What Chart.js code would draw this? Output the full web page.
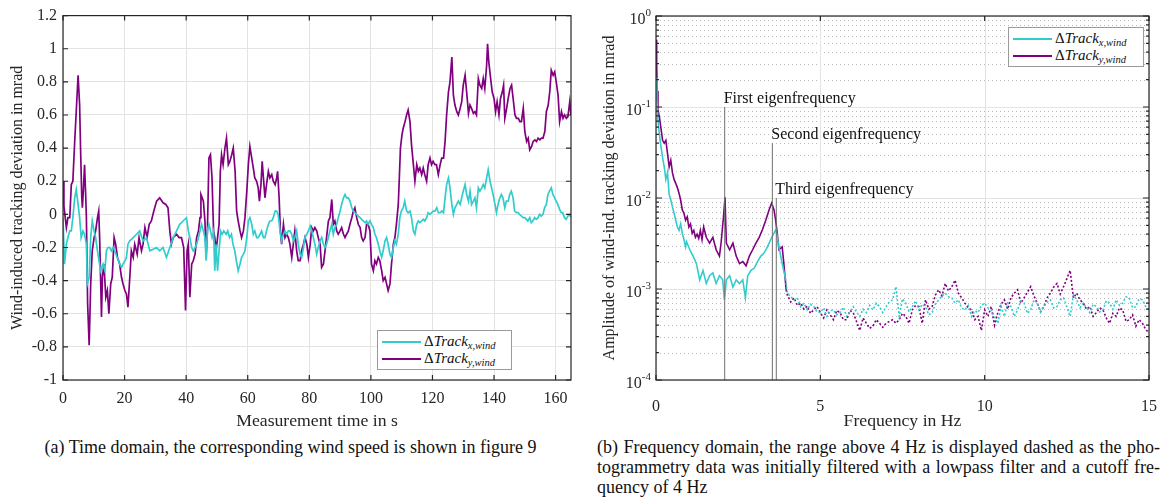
<!DOCTYPE html>
<html><head><meta charset="utf-8">
<script src="https://cdn.jsdelivr.net/npm/chart.js@4.4.1/dist/chart.umd.min.js"></script>
<style>
body{margin:0;background:#fff;width:1166px;height:500px;overflow:hidden;position:relative;font-family:"Liberation Serif",serif;color:#262626}
canvas{position:absolute;top:0}
#c1{left:0}
#c2{left:590px}
.leg{position:absolute;background:#fff;border:1px solid #9a9a9a;box-sizing:border-box}
.ln{position:absolute;left:4px;width:39px;height:2px}
.lt{position:absolute;left:46px;font-size:15px;line-height:15px;white-space:nowrap;color:#111}
.lt i{font-style:italic}
.lt sub{font-size:10.5px;vertical-align:-3px;line-height:0}
.cap{position:absolute;font-size:18px;line-height:20px;color:#111;white-space:nowrap}
.just{text-align:justify;text-align-last:justify;white-space:normal}
</style></head>
<body>
<canvas id="c1" width="580" height="434"></canvas>
<canvas id="c2" width="576" height="434"></canvas>

<div class="leg" style="left:377px;top:330px;width:135px;height:40px">
  <div class="ln" style="top:10px;background:rgb(51,204,204)"></div>
  <div class="lt" style="top:3px">Δ<i>Track</i><sub><i>x,wind</i></sub></div>
  <div class="ln" style="top:27px;background:rgb(128,0,128)"></div>
  <div class="lt" style="top:20px">Δ<i>Track</i><sub><i>y,wind</i></sub></div>
</div>
<div class="leg" style="left:1008px;top:27px;width:136px;height:40px">
  <div class="ln" style="top:10px;background:rgb(51,204,204)"></div>
  <div class="lt" style="top:3px">Δ<i>Track</i><sub><i>x,wind</i></sub></div>
  <div class="ln" style="top:27px;background:rgb(128,0,128)"></div>
  <div class="lt" style="top:20px">Δ<i>Track</i><sub><i>y,wind</i></sub></div>
</div>

<div class="cap" style="left:0;width:581px;top:437px;text-align:center">(a) Time domain, the corresponding wind speed is shown in figure 9</div>
<div class="cap just" style="left:597px;width:563px;top:437px">(b) Frequency domain, the range above 4 Hz is displayed dashed as the pho-</div>
<div class="cap just" style="left:597px;width:563px;top:457px">togrammetry data was initially filtered with a lowpass filter and a cutoff fre-</div>
<div class="cap" style="left:597px;top:477px">quency of 4 Hz</div>

<script>
// ---------- Time domain data ----------
const timeX = [0.0,0.5,1.1,1.6,2.2,2.7,3.2,3.8,4.3,4.9,5.4,5.9,6.5,7.0,7.6,7.9,8.5,9.0,9.5,10.1,10.6,11.2,11.7,12.2,13.0,13.6,14.1,14.6,15.2,15.7,16.3,16.8,17.6,18.4,19.0,19.5,20.1,20.6,21.1,21.7,22.8,23.9,24.9,26.0,27.1,28.2,29.3,30.4,31.4,32.5,33.6,34.7,35.8,36.9,37.9,39.0,40.1,40.7,41.2,41.8,42.3,42.9,43.4,44.0,44.5,45.0,45.6,46.1,46.5,46.9,47.4,47.9,48.4,48.9,49.3,49.7,50.2,50.7,51.2,51.7,52.2,53.0,53.5,54.1,54.7,55.2,55.8,56.3,56.9,57.5,58.0,58.6,59.1,59.7,60.2,60.7,61.3,61.8,62.3,62.9,63.4,64.0,64.5,65.1,65.6,66.1,66.7,67.2,67.8,68.3,68.9,69.4,69.9,70.5,71.0,71.6,72.1,72.6,73.2,73.7,74.3,74.8,75.3,75.9,76.4,77.0,77.5,78.1,78.6,79.2,79.7,80.3,80.8,81.3,81.8,82.4,82.9,83.5,84.0,84.6,85.1,85.6,86.2,86.7,87.3,87.8,88.3,88.9,89.4,90.0,90.5,91.1,91.6,92.1,92.7,93.2,93.8,94.3,94.8,95.4,95.9,96.5,97.0,97.5,98.1,98.6,99.1,99.7,100.2,100.8,101.3,101.8,102.4,102.9,103.5,104.0,104.6,105.1,105.6,106.2,106.7,107.3,107.8,108.3,108.9,109.4,109.9,110.5,111.0,111.6,112.1,112.7,113.2,113.8,114.3,114.9,115.4,115.9,116.5,117.0,117.5,118.1,118.6,119.2,119.7,120.2,120.8,121.4,121.9,122.5,123.0,123.6,124.1,124.6,125.2,125.7,126.3,126.8,127.3,127.9,128.4,129.0,129.5,130.0,130.6,131.1,131.7,132.2,132.7,133.3,133.8,134.3,134.9,135.4,136.0,136.5,137.0,137.6,138.1,138.7,139.2,139.7,140.3,140.8,141.3,141.9,142.4,142.9,143.5,144.0,144.6,145.1,145.6,146.2,146.7,147.3,147.8,148.3,148.9,149.4,150.0,150.5,151.0,151.6,152.1,152.6,153.2,153.7,154.3,154.8,155.3,155.9,156.4,157.0,157.5,158.0,158.6,159.1,159.7,160.2,160.7,161.3,161.8,162.3,162.9,163.4,164.0,164.6,165.0];
const devX = [-0.02,-0.3,-0.18,-0.14,-0.1,-0.1,-0.02,0.1,0.15,0.06,-0.02,-0.14,-0.1,-0.12,-0.18,-0.42,-0.38,-0.14,-0.04,-0.1,-0.14,-0.22,-0.28,-0.34,-0.3,-0.34,-0.22,-0.2,-0.2,-0.22,-0.2,-0.22,-0.26,-0.3,-0.32,-0.3,-0.28,-0.26,-0.18,-0.16,-0.14,-0.12,-0.1,-0.16,-0.14,-0.22,-0.21,-0.2,-0.22,-0.2,-0.26,-0.2,-0.14,-0.1,-0.06,-0.04,-0.02,-0.1,-0.14,-0.2,-0.22,-0.2,-0.18,-0.14,-0.1,-0.06,-0.1,-0.14,-0.28,-0.1,-0.06,-0.1,-0.14,-0.1,-0.34,-0.18,-0.34,-0.22,-0.1,-0.12,-0.1,-0.12,-0.1,-0.14,-0.12,-0.18,-0.22,-0.28,-0.34,-0.3,-0.26,-0.24,-0.22,-0.14,-0.04,-0.02,-0.06,-0.12,-0.1,-0.14,-0.14,-0.12,-0.1,-0.14,-0.14,-0.1,-0.06,-0.04,-0.04,-0.02,0.02,0.02,0.0,-0.1,-0.16,-0.12,-0.1,-0.12,-0.1,-0.1,-0.12,-0.16,-0.14,-0.1,-0.18,-0.24,-0.26,-0.2,-0.14,-0.12,-0.1,-0.07,-0.1,-0.14,-0.18,-0.24,-0.2,-0.16,-0.14,-0.18,-0.2,-0.18,-0.14,-0.1,-0.06,-0.12,-0.08,-0.06,-0.02,0.02,0.06,0.1,0.12,0.1,0.1,0.08,0.04,0.02,0.01,0.0,-0.01,-0.02,-0.03,-0.04,-0.05,-0.04,-0.06,-0.04,-0.06,-0.08,-0.12,-0.14,-0.18,-0.22,-0.26,-0.22,-0.16,-0.14,-0.18,-0.24,-0.26,-0.2,-0.16,-0.18,-0.12,-0.02,0.02,0.04,0.08,0.02,0.01,0.02,-0.02,-0.1,-0.12,-0.06,-0.04,-0.05,-0.04,-0.03,-0.04,-0.02,0.01,0.0,0.01,0.02,0.02,0.04,0.01,0.01,0.02,0.01,0.1,0.18,0.22,0.16,0.06,0.0,0.04,0.06,0.08,0.06,0.1,0.14,0.18,0.12,0.08,0.14,0.06,0.08,0.1,0.04,0.16,0.14,0.16,0.18,0.16,0.22,0.27,0.2,0.16,0.12,0.06,0.01,0.06,0.1,0.12,0.1,0.04,0.08,0.08,0.12,0.14,0.1,0.02,0.01,0.01,0.0,-0.01,-0.02,-0.02,-0.03,-0.04,-0.02,-0.05,-0.04,-0.02,-0.03,-0.02,0.0,-0.01,0.0,0.04,0.06,0.12,0.14,0.16,0.12,0.1,0.08,0.06,0.03,0.01,0.01,-0.02,-0.03,-0.01,0.0,-0.02];

const timeY = [0.0,0.3,1.1,1.6,2.2,2.7,3.2,3.8,4.3,4.9,5.4,5.7,6.1,6.3,6.6,7.0,7.4,7.6,8.0,8.5,9.0,9.5,10.1,10.6,11.2,11.6,11.9,12.5,12.8,13.3,13.9,14.4,14.9,15.5,16.0,16.6,17.1,17.7,18.4,19.0,19.5,20.1,20.6,21.1,21.7,22.2,22.8,23.3,24.1,24.7,25.5,26.0,26.6,27.3,28.0,28.7,29.5,30.4,31.4,32.5,33.4,34.1,34.7,35.2,35.8,36.9,37.7,38.5,39.2,39.8,40.3,40.7,41.2,41.8,42.3,42.9,43.4,44.0,44.5,44.8,45.2,45.6,46.1,46.5,46.9,47.4,47.9,48.4,48.9,49.3,49.7,50.2,50.7,51.1,51.5,52.0,52.6,53.1,53.7,54.2,54.8,55.3,55.9,56.4,56.9,57.5,58.0,58.6,59.1,59.7,60.2,60.7,61.3,61.8,62.3,62.9,63.4,63.8,64.3,64.7,65.1,65.6,66.1,66.7,67.2,67.8,68.3,68.9,69.4,69.7,70.2,70.6,71.0,71.6,72.1,72.6,73.2,73.7,74.3,74.8,75.3,75.9,76.4,77.0,77.5,78.1,78.6,79.2,79.7,80.3,80.8,81.3,81.8,82.4,82.9,83.5,84.0,84.6,85.1,85.6,86.2,86.7,87.3,87.8,88.3,88.9,89.4,90.0,90.5,91.1,91.6,92.1,92.7,93.2,93.8,94.3,94.8,95.4,95.9,96.5,97.0,97.5,98.1,98.6,99.1,99.7,100.2,100.8,101.3,101.8,102.4,102.9,103.5,104.0,104.6,105.1,105.6,106.2,106.7,107.3,107.8,108.3,108.9,109.2,109.6,110.1,110.5,111.1,111.6,112.1,112.7,113.2,113.8,114.3,114.9,115.4,115.9,116.5,117.0,117.5,118.1,118.6,119.2,119.7,120.2,120.8,121.3,121.9,122.5,123.0,123.6,124.1,124.6,125.2,125.7,126.3,126.8,127.3,127.9,128.4,129.0,129.5,130.0,130.6,131.1,131.7,132.2,132.7,133.3,133.8,134.3,134.9,135.4,136.0,136.5,137.0,137.6,137.9,138.3,138.9,139.4,140.0,140.5,141.0,141.6,142.1,142.7,143.1,143.5,144.1,144.6,145.2,145.7,146.2,146.8,147.3,147.9,148.4,148.9,149.5,150.0,150.6,151.1,151.6,152.2,152.7,153.3,153.8,154.3,154.9,155.4,155.9,156.5,157.0,157.6,158.1,158.6,159.2,159.7,160.2,160.8,161.3,161.9,162.4,162.9,163.5,164.0,164.6,165.0];
const devY = [0.2,0.05,-0.08,-0.02,-0.02,0.18,0.2,0.44,0.62,0.84,0.66,0.4,0.1,0.04,0.14,0.3,0.1,-0.02,-0.54,-0.79,-0.42,-0.22,-0.14,-0.1,-0.02,0.02,-0.14,-0.62,-0.38,-0.3,-0.5,-0.46,-0.6,-0.42,-0.38,-0.14,-0.18,-0.26,-0.3,-0.38,-0.42,-0.46,-0.48,-0.56,-0.38,-0.22,-0.26,-0.18,-0.24,-0.14,-0.22,-0.18,-0.08,-0.14,-0.06,-0.04,0.02,0.08,0.1,0.07,0.06,0.04,-0.1,-0.18,-0.14,-0.12,-0.14,-0.14,-0.2,-0.58,-0.22,-0.18,-0.5,-0.3,-0.28,-0.24,-0.14,-0.1,-0.02,0.12,0.1,0.08,-0.04,-0.26,-0.1,0.34,0.36,0.22,-0.1,-0.14,-0.22,-0.14,-0.06,0.26,0.36,0.3,0.4,0.46,0.3,0.32,0.36,0.4,0.26,0.02,-0.04,-0.1,-0.14,-0.1,-0.02,0.14,0.3,0.41,0.34,0.28,0.22,0.2,0.16,0.08,0.18,0.32,0.22,0.1,0.18,0.26,0.22,0.24,0.2,0.18,0.22,0.26,0.1,-0.1,-0.18,-0.06,-0.14,-0.12,-0.14,-0.18,-0.26,-0.18,-0.1,-0.22,-0.28,-0.28,-0.22,-0.18,-0.14,-0.18,-0.26,-0.18,-0.08,-0.1,-0.08,-0.1,-0.14,-0.18,-0.32,-0.3,-0.22,-0.14,-0.04,-0.02,0.09,-0.06,-0.04,-0.1,-0.12,-0.1,-0.08,-0.12,-0.14,-0.12,-0.1,-0.06,-0.02,0.02,0.04,-0.02,-0.06,-0.08,-0.14,-0.16,-0.14,-0.06,-0.06,-0.1,-0.3,-0.34,-0.28,-0.3,-0.26,-0.28,-0.34,-0.4,-0.38,-0.42,-0.46,-0.42,-0.3,-0.18,-0.14,-0.06,0.06,0.2,0.4,0.48,0.52,0.56,0.6,0.63,0.56,0.42,0.3,0.2,0.3,0.26,0.28,0.24,0.28,0.24,0.2,0.3,0.34,0.3,0.32,0.3,0.3,0.24,0.3,0.34,0.34,0.44,0.6,0.74,0.8,0.95,0.72,0.66,0.62,0.6,0.64,0.68,0.78,0.84,0.74,0.61,0.66,0.64,0.61,0.62,0.6,0.82,0.78,0.76,0.82,0.76,0.9,1.03,0.92,0.82,0.74,0.7,0.62,0.68,0.6,0.7,0.74,0.78,0.58,0.64,0.7,0.76,0.78,0.7,0.6,0.58,0.58,0.56,0.56,0.64,0.5,0.44,0.46,0.39,0.41,0.44,0.45,0.44,0.46,0.45,0.46,0.46,0.5,0.62,0.66,0.74,0.87,0.84,0.86,0.8,0.72,0.56,0.62,0.58,0.6,0.58,0.59,0.68,0.6];

const timeTicks = [0,20,40,60,80,100,120,140,160];

// ---------- Frequency domain data ----------
// below the 4 Hz cutoff (solid)
const freqSolidX = [0,0.03,0.06,0.1,0.15,0.2,0.25,0.3,0.35,0.4,0.45,0.5,0.55,0.6,0.65,0.7,0.75,0.8,0.85,0.9,0.93,1.03,1.13,1.23,1.33,1.43,1.53,1.63,1.73,1.83,1.93,2.03,2.08,2.14,2.24,2.34,2.44,2.54,2.64,2.72,2.79,2.89,2.99,3.09,3.19,3.29,3.39,3.49,3.59,3.65,3.74,3.84,3.94];
const ampSolidX = [0.21,0.12,0.072,0.051,0.037,0.028,0.022,0.016,0.019,0.011,0.0095,0.008,0.0068,0.0057,0.0048,0.0044,0.0052,0.0041,0.0035,0.0029,0.0033,0.0027,0.0023,0.0019,0.00126,0.0016,0.00115,0.0014,0.0015,0.00115,0.0014,0.00126,0.00076,0.00126,0.0014,0.00105,0.00126,0.00115,0.00126,0.0008,0.0014,0.0016,0.0017,0.002,0.0023,0.0025,0.0029,0.0035,0.0041,0.0045,0.0029,0.0019,0.0013];
const freqSolidY = [0,0.02,0.04,0.06,0.1,0.15,0.2,0.25,0.3,0.35,0.4,0.45,0.5,0.55,0.6,0.65,0.7,0.75,0.8,0.85,0.9,0.95,1.0,1.05,1.1,1.15,1.2,1.25,1.3,1.35,1.4,1.45,1.53,1.63,1.73,1.83,1.93,1.98,2.05,2.1,2.14,2.24,2.34,2.44,2.54,2.64,2.74,2.84,2.94,3.04,3.14,3.24,3.34,3.44,3.52,3.59,3.64,3.69,3.74,3.84,3.89,3.96];
const ampSolidY = [0.55,0.3,0.15,0.093,0.079,0.059,0.043,0.04,0.043,0.031,0.022,0.026,0.019,0.016,0.0145,0.013,0.0113,0.0095,0.0074,0.0068,0.0057,0.0062,0.0048,0.0052,0.0041,0.0044,0.0037,0.004,0.0036,0.0044,0.0035,0.0048,0.0037,0.0032,0.0037,0.0027,0.0023,0.0032,0.006,0.0102,0.0032,0.0027,0.0032,0.0023,0.0019,0.002,0.0018,0.0023,0.0027,0.0032,0.0037,0.0045,0.0057,0.0074,0.0088,0.0074,0.0057,0.0041,0.0027,0.0029,0.0019,0.00098];
// above the 4 Hz cutoff (dashed)
const freqDashed = [4.0,4.1,4.2,4.3,4.4,4.5,4.6,4.7,4.8,4.9,5.0,5.1,5.2,5.3,5.4,5.5,5.6,5.7,5.8,5.9,6.0,6.1,6.2,6.3,6.4,6.5,6.6,6.7,6.8,6.9,7.0,7.1,7.2,7.3,7.4,7.5,7.6,7.7,7.8,7.9,8.0,8.1,8.2,8.3,8.4,8.5,8.6,8.7,8.8,8.9,9.0,9.1,9.2,9.3,9.4,9.5,9.6,9.7,9.8,9.9,10.0,10.1,10.2,10.3,10.4,10.5,10.6,10.7,10.8,10.9,11.0,11.1,11.2,11.3,11.4,11.5,11.6,11.7,11.8,11.9,12.0,12.1,12.2,12.3,12.4,12.5,12.6,12.7,12.8,12.9,13.0,13.1,13.2,13.3,13.4,13.5,13.6,13.7,13.8,13.9,14.0,14.1,14.2,14.3,14.4,14.5,14.6,14.7,14.8,14.9,15.0];
const ampDashedX = [9e-4,8.2e-4,7.6e-4,8e-4,6.4e-4,7e-4,5.9e-4,6.8e-4,6.4e-4,5.6e-4,5.5e-4,6.2e-4,5e-4,5.8e-4,5.9e-4,5.2e-4,5.5e-4,6.3e-4,5e-4,5.6e-4,6.4e-4,5.6e-4,5e-4,6e-4,5.5e-4,6.6e-4,5.9e-4,7e-4,6.4e-4,5.5e-4,6.4e-4,7.2e-4,7.6e-4,1.06e-3,5e-4,7.8e-4,7e-4,5.6e-4,6.4e-4,7.4e-4,5.9e-4,6.8e-4,6.4e-4,5.2e-4,5.5e-4,6.8e-4,7.6e-4,8.4e-4,9e-4,8.2e-4,8e-4,7e-4,7.6e-4,6.2e-4,5.9e-4,6.6e-4,5e-4,5.8e-4,5.5e-4,6.6e-4,7e-4,6.2e-4,5.9e-4,5e-4,4.2e-4,6.4e-4,5e-4,7e-4,6.4e-4,5e-4,5.9e-4,7.4e-4,7e-4,5.4e-4,5.9e-4,7.6e-4,7e-4,5.6e-4,6.4e-4,7.2e-4,7.6e-4,6.2e-4,6.4e-4,7.6e-4,8e-4,6.4e-4,5e-4,8.6e-4,7.6e-4,6.2e-4,7e-4,6.2e-4,5.5e-4,6.8e-4,6.4e-4,5.6e-4,5.9e-4,7.4e-4,7e-4,6e-4,7.6e-4,6.6e-4,7e-4,8.2e-4,8e-4,6.2e-4,6.4e-4,7.8e-4,7.6e-4,6.4e-4,5.9e-4];
const ampDashedY = [8.5e-4,7.2e-4,8e-4,6.6e-4,7e-4,6e-4,6.5e-4,5.4e-4,5.9e-4,6.4e-4,5.5e-4,4.8e-4,5.9e-4,5.2e-4,4.6e-4,5.8e-4,5.5e-4,4.6e-4,4.6e-4,5.8e-4,5.5e-4,4.4e-4,3.5e-4,4.8e-4,4.2e-4,3.7e-4,3.9e-4,4.6e-4,4.2e-4,3.8e-4,4.2e-4,4.4e-4,4.6e-4,4.2e-4,4.6e-4,5.4e-4,5e-4,4.2e-4,5.9e-4,6.6e-4,6.4e-4,4.2e-4,7.6e-4,6e-4,6.4e-4,8.6e-4,9.8e-4,8.4e-4,1.15e-3,9.5e-4,1.06e-3,1.25e-3,9e-4,8e-4,7e-4,6.2e-4,5.9e-4,4.6e-4,5e-4,3.5e-4,5.9e-4,5e-4,6.4e-4,4e-4,5.5e-4,6.8e-4,7.6e-4,6e-4,8e-4,9e-4,9.8e-4,7e-4,8e-4,9.2e-4,1.06e-3,8.4e-4,7e-4,5.6e-4,6.4e-4,8e-4,9e-4,1.05e-3,1.15e-3,8.8e-4,1.06e-3,1.3e-3,1.6e-3,8e-4,9e-4,7.6e-4,7e-4,6e-4,6.4e-4,5e-4,5.5e-4,6.2e-4,5.9e-4,4.8e-4,4.2e-4,5.4e-4,5e-4,6.2e-4,5.9e-4,4.4e-4,4.6e-4,5.2e-4,3.9e-4,4.6e-4,4.2e-4,3.6e-4,3.3e-4];

const freqTicks = [0,5,10,15];
const ampDecades = [1e-4,1e-3,1e-2,1e-1,1];
const cutoffFreq = 4;

const eigenLabels = ['First eigenfrequency','Second eigenfrequency','Third eigenfrequency'];
const eigenFreqs = [2.09, 3.54, 3.66];
const eigenTops = [0.1, 0.04, 0.01];

// ---------- styling ----------
const CYAN = 'rgb(51,204,204)', PURPLE = 'rgb(128,0,128)', AX = '#262626';
const FONT = '"Liberation Serif", "Times New Roman", serif';
Chart.defaults.font.family = FONT;
Chart.defaults.color = AX;

const pts = (xs, ys) => xs.map((x, i) => ({x, y: ys[i]}));

const frameLin = {
  id: 'frameLin',
  afterDatasetsDraw(chart) {
    const {ctx, chartArea: a, scales: {x, y}} = chart;
    ctx.save();
    ctx.strokeStyle = AX; ctx.lineWidth = 1.2;
    ctx.beginPath();
    x.ticks.forEach(t => { const px = x.getPixelForValue(t.value);
      ctx.moveTo(px, a.bottom); ctx.lineTo(px, a.bottom - 5);
      ctx.moveTo(px, a.top); ctx.lineTo(px, a.top + 5); });
    y.ticks.forEach(t => { const py = y.getPixelForValue(t.value);
      ctx.moveTo(a.left, py); ctx.lineTo(a.left + 5, py);
      ctx.moveTo(a.right, py); ctx.lineTo(a.right - 5, py); });
    ctx.stroke();
    ctx.strokeRect(a.left, a.top, a.right - a.left, a.bottom - a.top);
    ctx.restore();
  }
};

const logDecor = {
  id: 'logDecor',
  beforeDatasetsDraw(chart) {
    const {ctx, chartArea: a, scales: {x, y}} = chart;
    ctx.save();
    ctx.strokeStyle = 'rgba(0,0,0,0.28)'; ctx.lineWidth = 1; ctx.setLineDash([1, 3]);
    ctx.beginPath();
    for (let d = 0; d < ampDecades.length - 1; d++) {
      for (let k = 2; k <= 9; k++) {
        const py = Math.round(y.getPixelForValue(ampDecades[d] * k)) + 0.5;
        ctx.moveTo(a.left, py); ctx.lineTo(a.right, py);
      }
    }
    ctx.stroke();
    ctx.setLineDash([]);
    ctx.strokeStyle = '#e3e3e3'; ctx.beginPath();
    ampDecades.forEach(v => { const py = Math.round(y.getPixelForValue(v)) + 0.5; ctx.moveTo(a.left, py); ctx.lineTo(a.right, py); });
    freqTicks.forEach(v => { const px = Math.round(x.getPixelForValue(v)) + 0.5; ctx.moveTo(px, a.top); ctx.lineTo(px, a.bottom); });
    ctx.stroke();
    ctx.restore();
  },
  afterDatasetsDraw(chart) {
    const {ctx, chartArea: a, scales: {x, y}} = chart;
    ctx.save();
    ctx.fillStyle = '#111'; ctx.font = '16px ' + FONT; ctx.textAlign = 'left'; ctx.textBaseline = 'alphabetic';
    eigenLabels.forEach((s, i) => {
      ctx.fillText(s, x.getPixelForValue(eigenFreqs[i]) - 1, y.getPixelForValue(eigenTops[i]) - 4);
    });
    ctx.strokeStyle = AX; ctx.lineWidth = 1.2; ctx.beginPath();
    freqTicks.forEach(v => { const px = x.getPixelForValue(v);
      ctx.moveTo(px, a.bottom); ctx.lineTo(px, a.bottom - 5);
      ctx.moveTo(px, a.top); ctx.lineTo(px, a.top + 5); });
    for (let d = 0; d < ampDecades.length; d++) {
      for (let k = 1; k <= 9; k++) {
        if (d === ampDecades.length - 1 && k > 1) break;
        const py = y.getPixelForValue(ampDecades[d] * k);
        const L = k === 1 ? 6 : 3;
        ctx.moveTo(a.left, py); ctx.lineTo(a.left + L, py);
        ctx.moveTo(a.right, py); ctx.lineTo(a.right - L, py);
      }
    }
    ctx.stroke();
    ctx.strokeRect(a.left, a.top, a.right - a.left, a.bottom - a.top);
    ctx.fillStyle = AX; ctx.textAlign = 'right'; ctx.textBaseline = 'middle';
    ampDecades.forEach(v => {
      const py = y.getPixelForValue(v);
      const e = String(Math.round(Math.log10(v)));
      ctx.font = '11px ' + FONT;
      const w = ctx.measureText(e).width;
      ctx.fillText(e, a.left - 5, py - 3);
      ctx.font = '16px ' + FONT;
      ctx.fillText('10', a.left - 5 - w, py + 4);
    });
    ctx.restore();
  }
};

const xTitleFont = {size: 17.7};

// ---------- Chart (a): time domain ----------
new Chart(document.getElementById('c1'), {
  type: 'line',
  data: {
    datasets: [
      {label: 'ΔTrack x,wind', data: pts(timeX, devX), borderColor: CYAN, borderWidth: 1.7, pointRadius: 0, tension: 0},
      {label: 'ΔTrack y,wind', data: pts(timeY, devY), borderColor: PURPLE, borderWidth: 1.7, pointRadius: 0, tension: 0}
    ]
  },
  options: {
    responsive: false, animation: false,
    layout: {padding: {left: 0, top: 13, right: 9, bottom: 0}},
    plugins: {legend: {display: false}, tooltip: {enabled: false}},
    scales: {
      x: {
        type: 'linear', min: 0, max: 165,
        afterBuildTicks: s => { s.ticks = timeTicks.map(v => ({value: v})); },
        afterFit: s => { s.height = 54; },
        ticks: {font: {size: 16}, padding: 9, maxRotation: 0},
        grid: {color: '#e3e3e3', drawTicks: false}, border: {display: false},
        title: {display: true, text: 'Measurement time in s', font: xTitleFont, padding: {top: 0, bottom: 2}, color: AX}
      },
      y: {
        type: 'linear', min: -1, max: 1.2,
        ticks: {stepSize: 0.2, font: {size: 16}, padding: 6, callback: v => String(Number(v.toFixed(1)))},
        afterFit: s => { s.width = 63; },
        grid: {color: '#e3e3e3', drawTicks: false}, border: {display: false},
        title: {display: true, text: 'Wind-induced tracking deviation in mrad', font: {size: 16}, padding: {top: 8, bottom: 0}, color: AX}
      }
    }
  },
  plugins: [frameLin]
});

// ---------- Chart (b): frequency domain ----------
const dashAfterCutoff = ctx => ctx.p1.parsed.x > cutoffFreq - 0.01 ? [2, 2] : undefined;
const eigenSets = eigenFreqs.map((f, i) => ({
  label: eigenLabels[i], data: [{x: f, y: ampDecades[0]}, {x: f, y: eigenTops[i]}],
  borderColor: '#707070', borderWidth: 1, pointRadius: 0
}));
new Chart(document.getElementById('c2'), {
  type: 'line',
  data: {
    datasets: [
      ...eigenSets,
      {label: 'ΔTrack x,wind', data: pts(freqSolidX.concat(freqDashed), ampSolidX.concat(ampDashedX)), borderColor: CYAN, borderWidth: 1.6, pointRadius: 0, tension: 0, segment: {borderDash: dashAfterCutoff}},
      {label: 'ΔTrack y,wind', data: pts(freqSolidY.concat(freqDashed), ampSolidY.concat(ampDashedY)), borderColor: PURPLE, borderWidth: 1.6, pointRadius: 0, tension: 0, segment: {borderDash: dashAfterCutoff}}
    ]
  },
  options: {
    responsive: false, animation: false,
    layout: {padding: {left: 0, top: 16, right: 12, bottom: 0}},
    plugins: {legend: {display: false}, tooltip: {enabled: false}},
    scales: {
      x: {
        type: 'linear', min: 0, max: 15,
        afterBuildTicks: s => { s.ticks = freqTicks.map(v => ({value: v})); },
        afterFit: s => { s.height = 54; },
        ticks: {font: {size: 16}, padding: 9, maxRotation: 0},
        grid: {display: false}, border: {display: false},
        title: {display: true, text: 'Frequency in Hz', font: xTitleFont, padding: {top: 0, bottom: 2}, color: AX}
      },
      y: {
        type: 'logarithmic', min: 1e-4, max: 1,
        afterBuildTicks: s => { s.ticks = ampDecades.map(v => ({value: v, major: true})); },
        afterFit: s => { s.width = 66; },
        ticks: {display: false},
        grid: {display: false}, border: {display: false},
        title: {display: true, text: 'Amplitude of wind-ind. tracking deviation in mrad', font: {size: 16}, padding: {top: 10, bottom: 0}, color: AX}
      }
    }
  },
  plugins: [logDecor]
});
</script>
</body></html>
